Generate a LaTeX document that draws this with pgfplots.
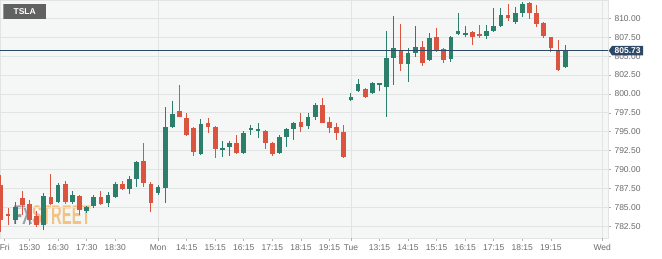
\documentclass[border=0pt]{standalone}
\usepackage{pgfplots}
\pgfplotsset{compat=1.18}
\usepackage{pgfplotstable}
\usepackage{graphicx}
\usepackage{fontspec}
\setmainfont{Liberation Sans}
\usetikzlibrary{shapes.symbols}
\definecolor{cgreen}{HTML}{2B7F6B}
\definecolor{cred}{HTML}{DA5440}
\definecolor{gridc}{HTML}{E2E4E4}
\definecolor{plotbg}{HTML}{F5F6F6}
\definecolor{tickc}{HTML}{6B6B6B}
\definecolor{pricec}{HTML}{2E4866}
\definecolor{wmgray}{HTML}{7E848A}
\definecolor{wmorange}{HTML}{F1B25E}

\pgfplotstableread{
i O H L C
2 783.32 785.70 782.79 785.04
6 782.66 786.89 782.00 786.49
8 785.70 788.21 785.57 787.95
10 785.70 787.15 785.44 786.62
12 784.51 785.17 784.24 785.04
13 785.17 786.62 784.90 786.36
15 785.57 787.02 785.04 786.62
16 786.36 788.35 786.23 788.08
18 787.42 789.14 786.76 788.74
19 788.74 791.12 787.68 790.99
22 786.89 787.95 786.62 787.68
23 787.55 798.27 785.57 795.62
24 795.62 799.06 795.50 797.34
28 792.05 796.68 791.90 796.02
31 792.71 793.77 791.65 792.84
32 792.97 793.77 791.78 793.50
34 792.18 795.09 792.05 794.83
35 795.22 795.89 794.56 795.49
36 795.09 796.15 794.17 795.36
39 792.18 794.56 792.05 794.30
40 794.30 795.49 792.97 795.36
41 795.36 796.28 793.90 796.15
43 795.75 797.47 795.36 796.94
44 796.94 798.80 796.55 798.53
49 799.19 800.12 799.06 799.59
50 800.38 801.97 800.30 801.31
52 800.12 801.57 799.99 801.44
53 801.18 801.48 800.38 801.44
54 800.92 808.32 796.94 804.75
55 804.75 810.30 801.18 806.07
57 803.96 806.07 801.58 805.41
58 805.41 808.98 804.88 806.20
60 804.48 808.06 804.35 807.39
63 804.62 807.60 804.22 807.53
64 807.92 810.70 807.80 808.32
65 807.79 808.98 807.53 808.06
68 807.66 809.11 807.26 808.32
69 808.32 811.36 808.19 808.98
70 808.98 811.36 808.85 810.44
72 809.51 811.49 809.25 810.70
73 810.70 812.16 810.17 811.89
79 803.56 806.47 803.50 805.73
}\greentab

\pgfplotstableread{
i O H L C
0 787.95 789.27 781.73 783.32
1 784.11 784.90 782.66 783.85
3 786.23 787.15 783.98 785.30
4 785.44 785.96 782.66 783.32
5 783.85 784.51 782.39 782.66
7 786.36 789.40 785.30 785.44
9 788.08 788.48 785.44 785.70
11 786.49 786.62 783.98 784.64
14 786.36 787.15 785.30 785.44
17 788.08 788.48 787.29 787.42
20 791.12 793.50 787.68 788.21
21 788.08 788.35 784.38 785.57
25 797.74 801.18 796.90 796.94
26 796.81 797.47 794.43 794.56
27 795.49 795.60 791.78 792.31
29 796.15 796.81 794.83 795.62
30 795.62 795.75 791.52 792.71
33 793.50 794.56 792.05 792.18
37 795.09 795.30 792.71 793.50
38 793.50 793.60 791.78 792.05
42 796.28 797.47 794.96 795.62
45 798.53 799.46 796.10 796.15
46 796.28 796.94 794.83 795.49
47 795.62 796.15 793.90 794.83
48 794.96 795.89 791.52 791.65
51 800.65 800.80 799.50 799.59
56 805.81 809.25 803.03 803.96
59 806.20 807.00 803.69 804.09
61 807.53 808.72 805.60 805.67
62 805.94 806.07 804.09 804.48
66 808.19 808.30 806.47 807.53
67 807.92 809.11 807.39 807.66
71 810.44 811.89 809.64 810.04
74 812.02 812.10 809.91 810.70
75 810.70 811.76 808.85 809.25
76 809.38 809.50 807.39 807.66
77 807.53 807.60 805.54 806.07
78 805.67 807.13 803.03 803.16
}\redtab

\begin{document}
\begin{tikzpicture}[x=1pt,y=1pt]
\fill[white] (0,-20) rectangle (662,238);
\fill[plotbg] (0,0) rectangle (608,238);
\node[opacity=0.75, inner sep=0pt] at (52,23)
  {\scalebox{0.55}[1]{\fontsize{27}{27}\selectfont\bfseries\textcolor{wmgray}{FX}\textcolor{wmorange}{STREET}}};
\begin{axis}[
  at={(0,0)}, anchor=south west,
  scale only axis, width=608pt, height=238pt,
  xmin=-0.14, xmax=85.0, ymin=780.95, ymax=812.42,
  axis line style={draw=gridc, line width=0.8pt},
  ytick={782.5,785,787.5,790,792.5,795,797.5,800,802.5,805,807.5,810},
  yticklabel pos=right, ytick pos=right,
  ymajorgrids, grid style={draw=gridc, line width=0.8pt},
  tick align=outside, major tick length=3pt,
  tick style={draw=gray!60, line width=0.6pt},
  xtick pos=bottom,
  xtick={0.52,4,8,12,16,26,30,34,38,42,46,53,57,61,65,69,73,77},
  xticklabels={Fri,15:30,16:30,17:30,18:30,14:15,15:15,16:15,17:15,18:15,19:15,13:15,14:15,15:15,16:15,17:15,18:15,19:15},
  extra x ticks={22,49,84.2},
  extra x tick labels={Mon,Tue,Wed},
  extra x tick style={grid=major},
  ticklabel style={font=\fontsize{8.5}{10}\selectfont, text=tickc},
  yticklabel style={/pgf/number format/fixed, /pgf/number format/fixed zerofill, /pgf/number format/precision=2, /pgf/number format/assume math mode=true, /pgf/number format/1000 sep={}},
]
% wicks
\addplot[draw=none, no markers, error bars/.cd, y dir=both, y explicit, error mark=none,
  error bar style={draw=cgreen, line width=1pt}]
  table[x=i, y expr={(\thisrow{H}+\thisrow{L})/2}, y error expr={(\thisrow{H}-\thisrow{L})/2}] {\greentab};
\addplot[draw=none, no markers, error bars/.cd, y dir=both, y explicit, error mark=none,
  error bar style={draw=cred, line width=1pt}]
  table[x=i, y expr={(\thisrow{H}+\thisrow{L})/2}, y error expr={(\thisrow{H}-\thisrow{L})/2}] {\redtab};
% bodies
\addplot[draw=none, no markers, error bars/.cd, y dir=both, y explicit, error mark=none,
  error bar style={draw=cgreen, line width=4.7pt}]
  table[x=i, y expr={(\thisrow{O}+\thisrow{C})/2}, y error expr={max(abs(\thisrow{C}-\thisrow{O})/2,0.08)}] {\greentab};
\addplot[draw=none, no markers, error bars/.cd, y dir=both, y explicit, error mark=none,
  error bar style={draw=cred, line width=4.7pt}]
  table[x=i, y expr={(\thisrow{O}+\thisrow{C})/2}, y error expr={max(abs(\thisrow{C}-\thisrow{O})/2,0.08)}] {\redtab};
% last price line
\addplot[pricec, line width=1pt, mark=none] coordinates {(-0.14,805.73) (85.0,805.73)};
\coordinate (pl) at (axis cs:85.0,805.73);
\end{axis}
\node[signal, signal to=west, signal pointer angle=110, fill=pricec, text=white,
  font=\bfseries\fontsize{8.5}{10}\selectfont, inner xsep=2.5pt, inner ysep=1.8pt, anchor=west]
  at ([xshift=0.5pt]pl) {805.73};
\node[fill=black!62, text=white, font=\bfseries\fontsize{8.5}{10}\selectfont,
  anchor=north west, minimum width=42.4pt, minimum height=15pt, inner sep=0pt]
  at (3.3,234) {TSLA};
\draw[cgreen!70, line width=0.8pt] (3.7,234) -- (3.7,219);
\pgfresetboundingbox
\useasboundingbox (0,-20) rectangle (662,238);
\end{tikzpicture}
\end{document}
